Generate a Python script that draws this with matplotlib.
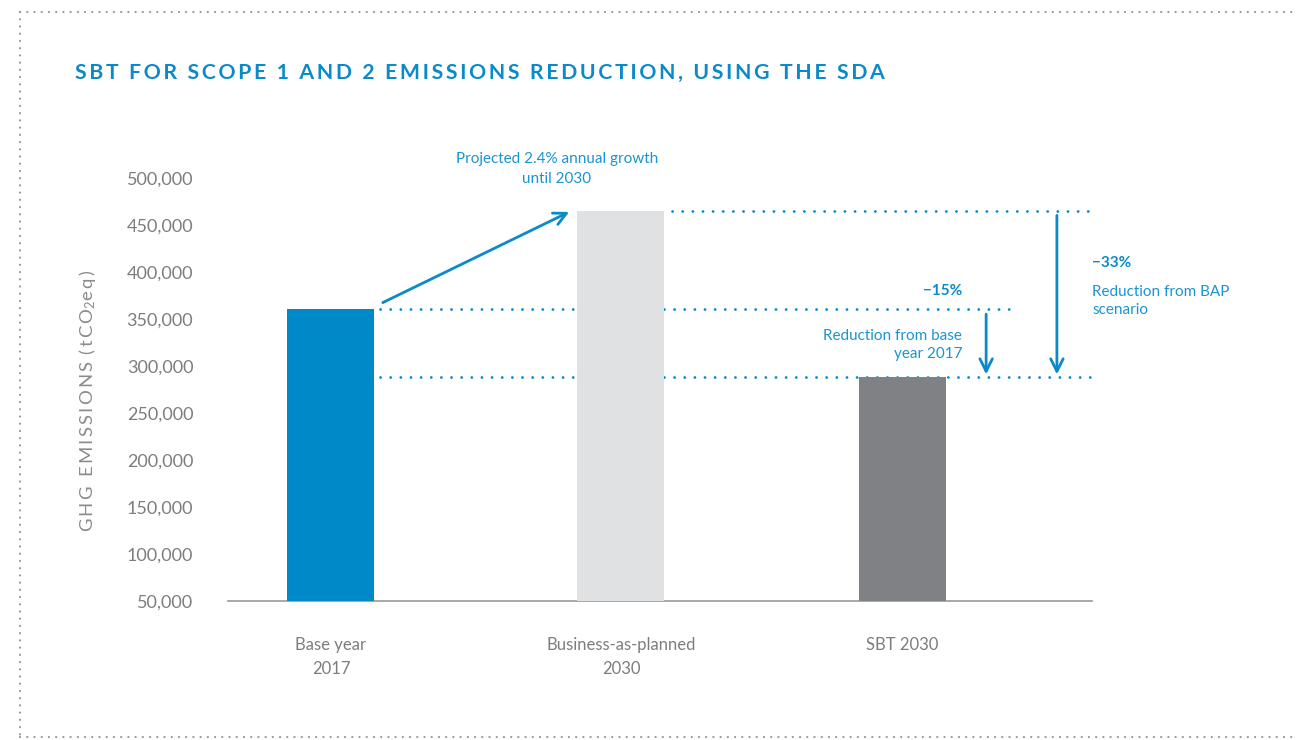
import matplotlib
matplotlib.use("Agg")
import matplotlib.pyplot as plt
from matplotlib.lines import Line2D

# ---- data ----
categories = ["Base year\n2017", "Business-as-planned\n2030", "SBT 2030"]
emissions = [360000, 465000, 288000]
bar_colors = ["#0089c9", "#e0e1e3", "#808184"]
y_ticks = [50000, 100000, 150000, 200000, 250000, 300000, 350000, 400000, 450000, 500000]
title = "SBT FOR SCOPE 1 AND 2 EMISSIONS REDUCTION, USING THE SDA"
ylabel_main = "GHG EMISSIONS"
growth_note = "Projected 2.4% annual growth\nuntil 2030"
red_base_pct = "\u221215%"
red_base_note = "Reduction from base\nyear 2017"
red_bap_pct = "\u221233%"
red_bap_note = "Reduction from BAP\nscenario"

# ---- style ----
plt.rcParams['font.family'] = ['Lato', 'DejaVu Sans']
plt.rcParams['mathtext.fontset'] = 'custom'
plt.rcParams['mathtext.rm'] = 'Lato'
plt.rcParams['mathtext.it'] = 'Lato'
BLUE = "#0a8ac8"
TXTBLUE = "#1a94d2"
GREY = "#7d7d7d"
THIN = "\u2009"

W, H = 1296, 740
fig = plt.figure(figsize=(W / 100, H / 100), dpi=100)

def fx(px):
    return px / W

def fy(py):
    return 1 - py / H

ax = fig.add_axes([fx(228), fy(601), fx(1092) - fx(228), fy(159) - fy(601)])

positions = [0, 1, 1.97]
ax.bar(positions, emissions, width=0.3, color=bar_colors, zorder=3)
ax.set_ylim(50000, 520000)
ax.set_xlim(-0.355, 2.624)
ax.set_yticks(y_ticks)
ax.set_yticklabels([f"{v:,}" for v in y_ticks], color=GREY, fontsize=13)
ax.set_xticks(positions)
ax.set_xticklabels(categories, color=GREY, fontsize=12, linespacing=1.6)
ax.tick_params(axis='y', length=0, pad=25)
ax.tick_params(axis='x', length=0, pad=26)
for s in ['top', 'right', 'left']:
    ax.spines[s].set_visible(False)
ax.spines['bottom'].set_color('#9a9a9a')
ax.spines['bottom'].set_linewidth(1.2)

ylab = THIN.join(ylabel_main) + THIN + " " + THIN.join("(tCO") + "$_2$" + THIN.join("eq)")
ax.set_ylabel(ylab, color="#8c8c8c", fontsize=13.3)
ax.yaxis.set_label_coords(-0.151, 0.452)

# dotted reference lines
dot = dict(color=BLUE, lw=2, ls=(0, (0.05, 3.6)), dash_capstyle='round', zorder=2)
ax.plot([1.176, 2.624], [emissions[1]] * 2, **dot)
ax.plot([0.169, 2.348], [emissions[0]] * 2, **dot)
ax.plot([0.169, 2.624], [emissions[2]] * 2, **dot)

# arrows
arr = dict(arrowstyle='->,head_length=0.9,head_width=0.45', color=BLUE, lw=2)
ax.annotate("", xy=(0.83, 465000), xytext=(0.17, 366000), arrowprops=arr, zorder=4)
ax.annotate("", xy=(2.259, emissions[2]), xytext=(2.259, emissions[0] - 2000), arrowprops=arr, zorder=4)
ax.annotate("", xy=(2.503, emissions[2]), xytext=(2.503, emissions[1] - 2000), arrowprops=arr, zorder=4)

# texts
fig.text(fx(557), fy(169), growth_note, ha='center', va='center', color=TXTBLUE,
         fontsize=11, linespacing=1.55)
fig.text(fx(962), fy(291), red_base_pct, ha='right', va='center', color=BLUE,
         fontsize=11, fontweight='bold')
fig.text(fx(962), fy(345), red_base_note, ha='right', va='center', color=TXTBLUE,
         fontsize=11, linespacing=1.45, multialignment='right')
fig.text(fx(1092), fy(263), red_bap_pct, ha='left', va='center', color=BLUE,
         fontsize=11, fontweight='bold')
fig.text(fx(1092), fy(301), red_bap_note, ha='left', va='center', color=TXTBLUE,
         fontsize=11, linespacing=1.45)

# title with letter spacing
fig.text(fx(75), fy(73), THIN.join(title), ha='left', va='center', color=BLUE,
         fontsize=15.3, fontweight='bold')

# dotted frame
frame = dict(color='#9a9a9a', lw=1.6, ls=(0, (0.05, 3.2)), dash_capstyle='round',
             transform=fig.transFigure)
fig.add_artist(Line2D([fx(20), fx(1296)], [fy(12), fy(12)], **frame))
fig.add_artist(Line2D([fx(20), fx(20)], [fy(12), fy(738)], **frame))
fig.add_artist(Line2D([fx(20), fx(1296)], [fy(737), fy(737)], **frame))

fig.savefig("out.png", dpi=100)
